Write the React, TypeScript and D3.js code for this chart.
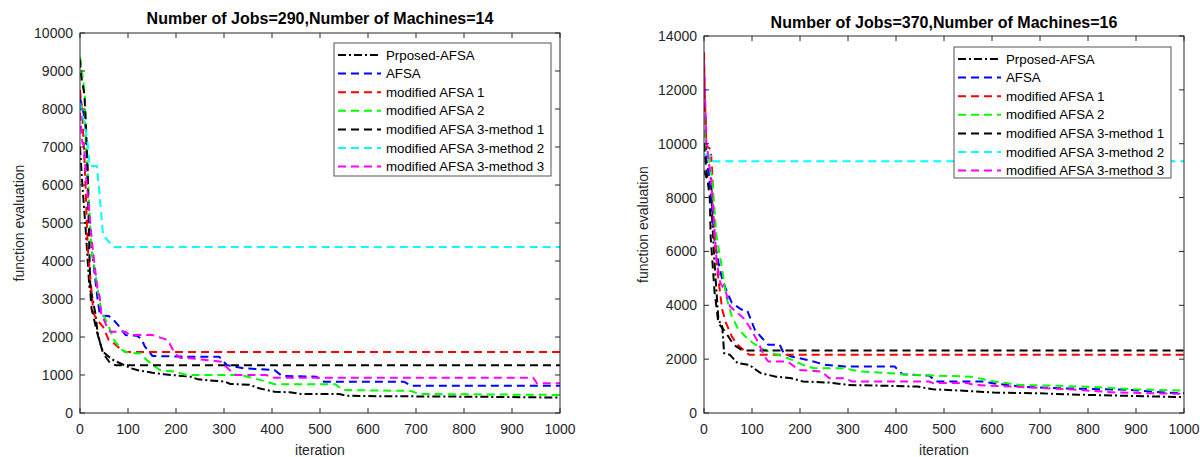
import React from 'react';
import * as d3 from 'd3';

const WIDTH = 1200;
const HEIGHT = 457;
const FONT = '"Liberation Sans", Arial, Helvetica, sans-serif';
const INK = '#262626';

const SERIES_NAMES = [
  'Prposed-AFSA',
  'AFSA',
  'modified AFSA 1',
  'modified AFSA 2',
  'modified AFSA 3-method 1',
  'modified AFSA 3-method 2',
  'modified AFSA 3-method 3',
];
const SERIES_COLORS = ['#000000', '#0000ff', '#ff0000', '#00ff00', '#000000', '#00ffff', '#ff00ff'];
const SERIES_DASH = ['8,3,2,3', '8,5', '8,5', '8,5', '8,5', '8,5', '8,5'];

const X_TICKS = [0, 100, 200, 300, 400, 500, 600, 700, 800, 900, 1000];
const LEFT_Y_TICKS = [0, 1000, 2000, 3000, 4000, 5000, 6000, 7000, 8000, 9000, 10000];
const RIGHT_Y_TICKS = [0, 2000, 4000, 6000, 8000, 10000, 12000, 14000];

const LEFT_TITLE = 'Number of Jobs=290,Number of Machines=14';
const RIGHT_TITLE = 'Number of Jobs=370,Number of Machines=16';

// left panel: [iteration, function evaluation]
const leftProposed = [[0,7000],[5,6000],[12,4800],[18,3600],[20,3240],[24,3150],[32,2620],[36,2180],[41,1880],[48,1610],[60,1480],[71,1380],[87,1290],[107,1175],[119,1130],[151,1060],[175,1020],[200,990],[230,955],[246,885],[278,850],[302,825],[313,765],[353,745],[373,650],[405,560],[437,545],[460,500],[540,500],[556,455],[595,445],[800,430],[900,420],[1000,405]];
const leftAfsa = [[0,8300],[9,7800],[12,7450],[16,6000],[22,4600],[32,3500],[36,3060],[41,2620],[45,2560],[60,2550],[70,2450],[79,2320],[95,2050],[119,2030],[128,1950],[135,1750],[151,1500],[230,1480],[290,1480],[306,1260],[341,1175],[405,1130],[421,975],[492,955],[508,825],[675,825],[690,720],[1000,720]];
const leftMod1 = [[0,8500],[5,7800],[10,6500],[16,4380],[22,3500],[28,2620],[36,2450],[48,2270],[60,1920],[71,1830],[87,1660],[95,1605],[1000,1605]];
const leftMod2 = [[0,9370],[4,9000],[10,8400],[12,7100],[15,6700],[20,5200],[24,4290],[32,3680],[38,3150],[44,2710],[60,2270],[71,1920],[87,1660],[103,1570],[127,1570],[135,1440],[151,1260],[167,1130],[198,1090],[222,1000],[333,1000],[349,955],[389,825],[405,755],[532,755],[548,605],[690,580],[706,500],[1000,475]];
const leftMod3m1 = [[0,9300],[2,8900],[9,8400],[12,7700],[14,7000],[16,6400],[17,5600],[20,4000],[22,3100],[24,2750],[36,2100],[48,1570],[63,1310],[75,1255],[1000,1255]];
const leftMod3m2 = [[0,8150],[10,7600],[17,7000],[20,6500],[35,6500],[40,5870],[48,4680],[63,4465],[71,4370],[1000,4370]];
const leftMod3m3 = [[0,7900],[3,7400],[5,7100],[8,7050],[12,6300],[18,5500],[25,4500],[30,3940],[36,3300],[41,3060],[44,2620],[55,2300],[63,2140],[95,2140],[103,2050],[151,2050],[183,1920],[198,1550],[210,1450],[230,1440],[294,1350],[310,1150],[325,1000],[389,1000],[400,930],[944,930],[952,780],[1000,780]];

// right panel
const rightProposed = [[0,9000],[5,8750],[15,8700],[17,7200],[22,5580],[30,3470],[38,3220],[42,2220],[54,2160],[70,1850],[94,1790],[118,1480],[150,1350],[182,1290],[206,1170],[261,1130],[301,1040],[381,1010],[445,980],[477,880],[540,830],[604,760],[700,730],[780,680],[900,630],[1000,590]];
const rightAfsa = [[0,11500],[3,11200],[5,9400],[10,8900],[16,7800],[22,6400],[30,5600],[38,4960],[46,4580],[58,4090],[78,3840],[90,3810],[106,3090],[118,2840],[134,2530],[158,2530],[166,2220],[182,2100],[213,1980],[253,1790],[293,1730],[397,1730],[413,1440],[469,1390],[484,1170],[580,1170],[612,1080],[660,980],[739,920],[883,860],[963,760],[1000,730]];
const rightMod1 = [[0,13400],[2,11500],[5,9900],[14,9800],[17,9000],[22,6500],[30,4960],[38,3840],[46,3340],[58,2840],[70,2530],[82,2350],[94,2160],[1000,2160]];
const rightMod2 = [[0,11000],[2,9770],[10,9500],[17,8700],[26,6570],[38,5330],[46,4340],[58,3590],[70,3160],[86,2840],[102,2600],[118,2410],[142,2220],[166,2100],[182,1980],[206,1790],[229,1660],[293,1660],[325,1540],[389,1480],[413,1440],[484,1390],[556,1350],[604,1170],[660,1040],[739,1010],[819,960],[899,880],[1000,830]];
const rightMod3m1 = [[0,10000],[5,9000],[12,8000],[14,6500],[22,4500],[30,3340],[46,2970],[62,2530],[78,2350],[90,2320],[1000,2320]];
const rightMod3m2 = [[0,9600],[14,9550],[16,9350],[1000,9350]];
const rightMod3m3 = [[0,13100],[3,11360],[5,10000],[7,9880],[9,9400],[12,9100],[17,8100],[26,5700],[34,4830],[46,4460],[54,3960],[70,3710],[82,3530],[94,3220],[110,2720],[126,2100],[134,1910],[174,1910],[198,1600],[245,1540],[261,1290],[293,1290],[309,1170],[469,1170],[477,1110],[548,1110],[564,1040],[644,980],[779,860],[859,760],[1000,710]];

const LEFT_SERIES = [leftProposed, leftAfsa, leftMod1, leftMod2, leftMod3m1, leftMod3m2, leftMod3m3];
const RIGHT_SERIES = [rightProposed, rightAfsa, rightMod1, rightMod2, rightMod3m1, rightMod3m2, rightMod3m3];

type Box = { left: number; right: number; top: number; bottom: number };

function Panel({ id, box, yMax, yTicks, title, titleY, series, legend, yLabelX }: {
  id: string; box: Box; yMax: number; yTicks: number[]; title: string; titleY: number;
  series: number[][][]; legend: { x: number; y: number; w: number; h: number }; yLabelX: number;
}) {
  const x = d3.scaleLinear().domain([0, 1000]).range([box.left, box.right]);
  const y = d3.scaleLinear().domain([0, yMax]).range([box.bottom, box.top]);
  const line = d3.line<number[]>().x((d) => x(d[0])).y((d) => y(d[1]));
  const tick = 5;
  const cx = (box.left + box.right) / 2;
  return (
    <g>
      <defs>
        <clipPath id={`clip-${id}`}>
          <rect x={box.left} y={box.top} width={box.right - box.left} height={box.bottom - box.top} />
        </clipPath>
      </defs>
      <g clipPath={`url(#clip-${id})`}>
        {series.map((pts, i) => (
          <path key={i} d={line(pts) ?? ''} fill="none" stroke={SERIES_COLORS[i]}
            strokeWidth={2} strokeDasharray={SERIES_DASH[i]} />
        ))}
      </g>
      <rect x={box.left} y={box.top} width={box.right - box.left} height={box.bottom - box.top}
        fill="none" stroke={INK} strokeWidth={1} />
      {X_TICKS.map((t) => (
        <g key={`x${t}`}>
          <line x1={x(t)} x2={x(t)} y1={box.bottom} y2={box.bottom - tick} stroke={INK} />
          <line x1={x(t)} x2={x(t)} y1={box.top} y2={box.top + tick} stroke={INK} />
          <text x={x(t)} y={box.bottom + 21} textAnchor="middle" fontSize={14} fill={INK}>{t}</text>
        </g>
      ))}
      {yTicks.map((t) => (
        <g key={`y${t}`}>
          <line x1={box.left} x2={box.left + tick} y1={y(t)} y2={y(t)} stroke={INK} />
          <line x1={box.right} x2={box.right - tick} y1={y(t)} y2={y(t)} stroke={INK} />
          <text x={box.left - 7} y={y(t) + 5} textAnchor="end" fontSize={14} fill={INK}>{t}</text>
        </g>
      ))}
      <text x={cx} y={titleY} textAnchor="middle" fontSize={16} fontWeight="bold" fill="#000">{title}</text>
      <text x={cx} y={455} textAnchor="middle" fontSize={14} fill={INK}>iteration</text>
      <text transform={`translate(${yLabelX}, ${(box.top + box.bottom) / 2}) rotate(-90)`}
        textAnchor="middle" fontSize={14} fill={INK} dy="0.35em">function evaluation</text>
      <g transform={`translate(${legend.x}, ${legend.y})`}>
        <rect width={legend.w} height={legend.h} fill="#fff" stroke="#555" strokeWidth={1} />
        {SERIES_NAMES.map((name, i) => (
          <g key={name} transform={`translate(0, ${12 + i * 18.6})`}>
            <line x1={4} x2={47} y1={0} y2={0} stroke={SERIES_COLORS[i]} strokeWidth={2}
              strokeDasharray={SERIES_DASH[i]} />
            <text x={52} y={4.5} fontSize={13.3} fill="#000">{name}</text>
          </g>
        ))}
      </g>
    </g>
  );
}

export default function App() {
  return (
    <svg width={WIDTH} height={HEIGHT} viewBox={`0 0 ${WIDTH} ${HEIGHT}`}
      style={{ position: 'absolute', left: 0, top: 0, background: '#fff', fontFamily: FONT }}>
      <rect width={WIDTH} height={HEIGHT} fill="#fff" />
      <Panel id="l" box={{ left: 80, right: 560, top: 33, bottom: 413 }} yMax={10000}
        yTicks={LEFT_Y_TICKS} title={LEFT_TITLE} titleY={24} series={LEFT_SERIES}
        legend={{ x: 334, y: 43, w: 217, h: 133 }} yLabelX={19} />
      <Panel id="r" box={{ left: 704, right: 1184, top: 36, bottom: 413 }} yMax={14000}
        yTicks={RIGHT_Y_TICKS} title={RIGHT_TITLE} titleY={28} series={RIGHT_SERIES}
        legend={{ x: 954, y: 47, w: 217, h: 131 }} yLabelX={643} />
    </svg>
  );
}
